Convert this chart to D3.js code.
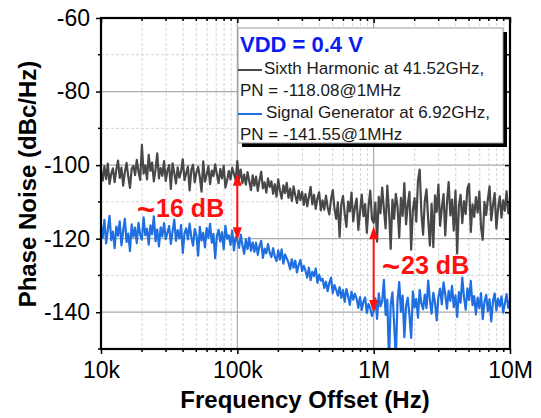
<!DOCTYPE html>
<html><head><meta charset="utf-8">
<script src="https://cdn.jsdelivr.net/npm/d3@7"></script>
<style>body{margin:0;background:#fff}svg{display:block}text{font-family:Arial,"Liberation Sans",sans-serif}</style>
</head><body><svg id="c" width="541" height="418"></svg>
<script>
// ---------- data ----------
const xTicks = [1e4, 1e5, 1e6, 1e7];
const xTickLabels = ["10k", "100k", "1M", "10M"];
const yTicks = [-60, -80, -100, -120, -140];
const yTickLabels = ["-60", "-80", "-100", "-120", "-140"];
const yMinor = [-70, -90, -110, -130, -150];
const startFreq = 1e4;
const pointsPerDecade = 80;
const seriesNames = ["Sixth Harmonic at 41.52GHz,", "Signal Generator at 6.92GHz,"];
const pnLabels = ["PN = -118.08@1MHz", "PN = -141.55@1MHz"];
const legendTitle = "VDD = 0.4 V";
const harmonic = [
-101.5,-104.2,-100.3,-103.8,-99.6,-105.1,-102.4,-100.9,-104.6,-101.2,
-98.8,-103.5,-100.7,-105.6,-101.9,-99.4,-103.1,-106.2,-101.0,-100.2,
-102.7,-98.6,-101.8,-104.0,-94.5,-102.3,-100.1,-103.9,-97.2,-101.6,
-99.3,-104.4,-101.1,-96.8,-103.6,-100.8,-102.9,-98.9,-104.3,-101.4,
-100.0,-106.5,-99.5,-102.1,-105.0,-100.6,-103.4,-101.7,-98.4,-104.1,
-102.2,-100.4,-106.9,-101.3,-99.9,-104.7,-102.0,-100.5,-103.3,-107.2,
-99.0,-104.5,-102.6,-100.3,-105.2,-101.5,-103.0,-99.8,-102.5,-104.9,
-101.0,-103.6,-100.2,-106.1,-104.2,-101.6,-103.9,-100.7,-102.4,-104.0,
-98.9,-103.8,-101.2,-104.9,-102.6,-105.3,-101.9,-104.4,-106.8,-102.8,
-105.6,-103.1,-107.0,-104.2,-101.8,-106.3,-104.7,-107.5,-103.6,-105.9,
-104.4,-107.8,-105.2,-108.6,-103.9,-106.9,-109.1,-105.5,-107.6,-104.8,
-108.9,-106.4,-109.7,-105.8,-108.2,-110.3,-106.9,-109.5,-107.3,-110.8,
-107.9,-111.2,-108.6,-105.9,-110.7,-108.1,-111.9,-109.0,-107.4,-112.3,
-109.6,-112.1,-108.3,-111.5,-113.4,-109.2,-106.8,-111.8,-114.6,-110.1,
-119.5,-110.7,-108.4,-113.2,-116.8,-109.9,-112.6,-107.5,-115.3,-111.4,
-109.1,-117.6,-112.8,-108.0,-113.9,-110.6,-118.4,-111.2,-106.9,-114.7,
-115.7,-110.2,-120.8,-108.6,-113.1,-106.1,-111.9,-117.2,-105.6,-112.5,
-122.8,-109.4,-114.6,-107.8,-111.3,-119.7,-108.9,-113.8,-104.9,-116.1,
-110.8,-107.3,-123.0,-112.2,-109.0,-115.4,-104.2,-101.2,-113.0,-118.9,
-109.7,-106.6,-114.9,-121.9,-110.5,-122.3,-108.2,-112.7,-105.3,-116.5,
-111.6,-107.9,-119.1,-110.3,-104.6,-113.7,-109.4,-117.8,-106.9,-124.0,
-111.0,-108.1,-115.8,-109.8,-113.3,-106.4,-105.1,-118.2,-110.7,-114.1,
-108.7,-112.9,-107.2,-116.9,-120.3,-110.0,-113.6,-109.3,-105.8,-115.0,
-110.9,-107.6,-117.3,-111.8,-108.5,-114.3,-109.6,-112.4,-107.1,-113.1,-110.2
];
const sigGen = [
-116.2,-119.8,-114.9,-121.3,-117.6,-113.8,-120.4,-118.1,-122.6,-116.7,
-119.2,-115.3,-121.8,-117.9,-114.6,-120.9,-118.6,-123.4,-116.1,-119.5,
-117.0,-121.2,-115.7,-118.9,-120.3,-114.2,-119.1,-117.3,-121.6,-116.4,
-118.8,-113.9,-120.7,-117.5,-122.1,-116.9,-119.4,-115.8,-120.1,-118.3,
-116.6,-121.4,-118.0,-114.8,-120.6,-117.7,-119.9,-116.3,-123.9,-118.5,
-117.2,-120.2,-115.9,-119.6,-121.9,-117.4,-119.0,-124.6,-116.8,-120.5,
-118.4,-122.4,-117.1,-119.7,-116.0,-121.1,-118.7,-125.3,-119.3,-117.6,
-120.8,-118.2,-122.9,-116.5,-120.0,-119.1,-121.7,-117.8,-123.2,-119.6,
-120.4,-122.5,-118.9,-121.8,-124.1,-120.2,-122.8,-119.7,-123.3,-121.0,
-123.6,-121.1,-124.4,-122.0,-120.6,-125.2,-122.7,-124.0,-121.5,-123.8,
-125.0,-122.6,-124.9,-126.1,-123.2,-125.7,-122.9,-126.8,-124.3,-125.4,
-126.5,-128.3,-125.6,-127.9,-126.0,-129.2,-127.1,-125.8,-128.8,-127.4,
-128.7,-130.6,-127.9,-131.3,-129.0,-130.2,-128.1,-132.0,-129.8,-131.4,
-130.9,-133.4,-131.7,-134.3,-132.0,-130.6,-134.8,-132.6,-133.9,-135.5,
-133.2,-136.1,-134.0,-137.2,-133.7,-135.6,-138.0,-134.4,-136.6,-135.0,
-136.3,-138.8,-135.9,-139.4,-137.1,-136.0,-140.2,-137.8,-138.9,-141.0,
-139.6,-136.2,-141.8,-134.9,-138.4,-137.0,-131.2,-140.7,-136.6,-153.0,
-137.8,-134.6,-142.9,-152.5,-136.9,-131.8,-139.9,-135.5,-146.8,-138.3,
-136.1,-140.8,-147.0,-134.3,-138.7,-136.4,-141.5,-133.9,-137.6,-139.2,
-135.2,-138.9,-131.4,-136.8,-140.4,-134.7,-137.3,-142.2,-135.8,-133.6,
-137.9,-131.9,-135.1,-139.0,-134.2,-136.9,-132.8,-138.6,-135.4,-141.3,
-134.5,-137.4,-130.6,-135.9,-139.3,-133.5,-136.7,-131.5,-138.1,-135.6,
-140.6,-136.0,-138.9,-134.8,-141.9,-137.2,-135.3,-139.7,-136.5,-142.5,
-137.0,-134.9,-139.5,-136.3,-138.4,-135.7,-140.1,-137.6,-135.1,-138.8,-136.9
];
const arrowFreqs = [1e5, 1e6];
const arrowTops = [-102.1, -116.6];
const arrowBottoms = [-120.4, -140.2];
const arrowValues = ["16 dB", "23 dB"];

// ---------- drawing ----------
const W = 541, H = 418;
const m = {l: 101, t: 18, r: 31, b: 69};
const svg = d3.select("#c");
const x = d3.scaleLog().domain([1e4, 1e7]).range([m.l, W - m.r]);
const y = d3.scaleLinear().domain([-150, -60]).range([H - m.b, m.t]);
const freq = i => startFreq * Math.pow(10, i / pointsPerDecade);

const gray = "#484848", blue = "#1f6fe0", red = "#ff1010";

const minorX = [];
for (let d = 1e4; d < 1e7; d *= 10) for (let k = 2; k <= 9; k++) minorX.push(d * k);

// grids
const grid = svg.append("g");
grid.selectAll(".mx").data(minorX).join("line")
  .attr("x1", d => x(d)).attr("x2", d => x(d)).attr("y1", m.t).attr("y2", H - m.b)
  .attr("stroke", "#d4d4d4").attr("stroke-width", 1).attr("stroke-dasharray", "3,2");
grid.selectAll(".my").data(yMinor.filter(v => v > -150)).join("line")
  .attr("x1", m.l).attr("x2", W - m.r).attr("y1", d => y(d)).attr("y2", d => y(d))
  .attr("stroke", "#d4d4d4").attr("stroke-width", 1).attr("stroke-dasharray", "3,2");
grid.selectAll(".Mx").data(xTicks.slice(1, -1)).join("line")
  .attr("x1", d => x(d)).attr("x2", d => x(d)).attr("y1", m.t).attr("y2", H - m.b)
  .attr("stroke", "#aaaaaa").attr("stroke-width", 1.2);
grid.selectAll(".My").data(yTicks.slice(1)).join("line")
  .attr("x1", m.l).attr("x2", W - m.r).attr("y1", d => y(d)).attr("y2", d => y(d))
  .attr("stroke", "#aaaaaa").attr("stroke-width", 1.2);

svg.append("clipPath").attr("id", "clip").append("rect")
  .attr("x", m.l).attr("y", m.t).attr("width", W - m.l - m.r).attr("height", H - m.t - m.b);

const line = d3.line().x((d, i) => x(freq(i))).y(d => y(d));
const plot = svg.append("g").attr("clip-path", "url(#clip)");
plot.append("path").attr("d", line(harmonic)).attr("fill", "none")
  .attr("stroke", gray).attr("stroke-width", 2.2).attr("stroke-linejoin", "round");
plot.append("path").attr("d", line(sigGen)).attr("fill", "none")
  .attr("stroke", blue).attr("stroke-width", 2.2).attr("stroke-linejoin", "round");

// axes
const font = "Arial, 'Liberation Sans', sans-serif";
const axB = svg.append("g").attr("transform", `translate(0,${H - m.b})`)
  .call(d3.axisBottom(x).tickValues(xTicks).tickFormat((d, i) => xTickLabels[i]).tickSize(5).tickPadding(8));
axB.append("g").selectAll("line").data(minorX).join("line")
  .attr("x1", d => x(d)).attr("x2", d => x(d)).attr("y1", 0).attr("y2", 3).attr("stroke", "#000").attr("stroke-width", 1.5);
const axL = svg.append("g").attr("transform", `translate(${m.l},0)`)
  .call(d3.axisLeft(y).tickValues(yTicks).tickFormat((d, i) => yTickLabels[i]).tickSize(5).tickPadding(6));
axL.append("g").selectAll("line").data(yMinor).join("line")
  .attr("x1", -3).attr("x2", 0).attr("y1", d => y(d)).attr("y2", d => y(d)).attr("stroke", "#000").attr("stroke-width", 1.5);
const axT = svg.append("g").attr("transform", `translate(0,${m.t})`)
  .call(d3.axisTop(x).tickValues(xTicks).tickFormat("").tickSize(-5));
axT.append("g").selectAll("line").data(minorX).join("line")
  .attr("x1", d => x(d)).attr("x2", d => x(d)).attr("y1", 0).attr("y2", 3).attr("stroke", "#000").attr("stroke-width", 1.5);
const axR = svg.append("g").attr("transform", `translate(${W - m.r},0)`)
  .call(d3.axisRight(y).tickValues(yTicks).tickFormat("").tickSize(-5));
axR.append("g").selectAll("line").data(yMinor).join("line")
  .attr("x1", -3).attr("x2", 0).attr("y1", d => y(d)).attr("y2", d => y(d)).attr("stroke", "#000").attr("stroke-width", 1.5);
[axB, axL, axT, axR].forEach(a => {
  a.select(".domain").remove();
  a.selectAll(".tick line").attr("stroke", "#000").attr("stroke-width", 1.5);
  a.selectAll(".tick text").attr("font-family", font).attr("font-size", 23).attr("fill", "#000");
});
svg.append("rect").attr("x", m.l).attr("y", m.t).attr("width", W - m.l - m.r).attr("height", H - m.t - m.b)
  .attr("fill", "none").attr("stroke", "#000").attr("stroke-width", 2.2);

// axis titles
svg.append("text").attr("x", 305).attr("y", 408).attr("text-anchor", "middle")
  .attr("font-family", font).attr("font-weight", "bold").attr("font-size", 24).text("Frequency Offset (Hz)");
svg.append("text").attr("transform", "translate(36,184) rotate(-90)").attr("text-anchor", "middle")
  .attr("font-family", font).attr("font-weight", "bold").attr("font-size", 24).text("Phase Noise (dBc/Hz)");

// legend
const lg = svg.append("g");
const lx = 238, ly = 28, lw = 265, lh = 115;
lg.append("rect").attr("x", lx + 4).attr("y", ly + 4).attr("width", lw).attr("height", lh).attr("fill", "#000");
lg.append("rect").attr("x", lx).attr("y", ly).attr("width", lw).attr("height", lh)
  .attr("fill", "#fff").attr("stroke", "#9a9a9a").attr("stroke-width", 1);
lg.append("text").attr("x", lx + 2).attr("y", ly + 24).attr("font-family", font).attr("font-weight", "bold")
  .attr("font-size", 22).attr("fill", "#0a1cf0").text(legendTitle);
const cols = [gray, blue];
[0, 1].forEach(k => {
  const by = ly + 42 + k * 44;
  lg.append("line").attr("x1", lx).attr("x2", lx + 24).attr("y1", by).attr("y2", by)
    .attr("stroke", cols[k]).attr("stroke-width", 2);
  lg.append("text").attr("x", lx + 26 + k * 2).attr("y", by + 4).attr("font-family", font).attr("font-size", 17)
    .attr("fill", "#1a1a1a").text(seriesNames[k]);
  lg.append("text").attr("x", lx + 2).attr("y", by + 26).attr("font-family", font).attr("font-size", 17)
    .attr("fill", "#1a1a1a").text(pnLabels[k]);
});

// annotations
const ann = svg.append("g");
const labelPos = [{x0: 137, dy: 217}, {x0: 382, dy: 274}];
arrowFreqs.forEach((f, k) => {
  const ax = x(f), y1 = y(arrowTops[k]), y2 = y(arrowBottoms[k]);
  ann.append("line").attr("x1", ax).attr("x2", ax).attr("y1", y1 + 10).attr("y2", y2 - 10)
    .attr("stroke", red).attr("stroke-width", 2);
  ann.append("path").attr("d", `M${ax},${y1} L${ax - 4.5},${y1 + 13} L${ax + 4.5},${y1 + 13} Z`).attr("fill", red);
  ann.append("path").attr("d", `M${ax},${y2} L${ax - 4.5},${y2 - 13} L${ax + 4.5},${y2 - 13} Z`).attr("fill", red);
  const t = ann.append("text").attr("x", labelPos[k].x0).attr("y", labelPos[k].dy)
    .attr("font-family", font).attr("font-weight", "bold").attr("font-size", 25).attr("fill", red);
  t.append("tspan").attr("font-size", 31).attr("dy", 3).text("~");
  t.append("tspan").attr("dy", -3).attr("dx", 1).text(arrowValues[k]);
});
</script></body></html>
